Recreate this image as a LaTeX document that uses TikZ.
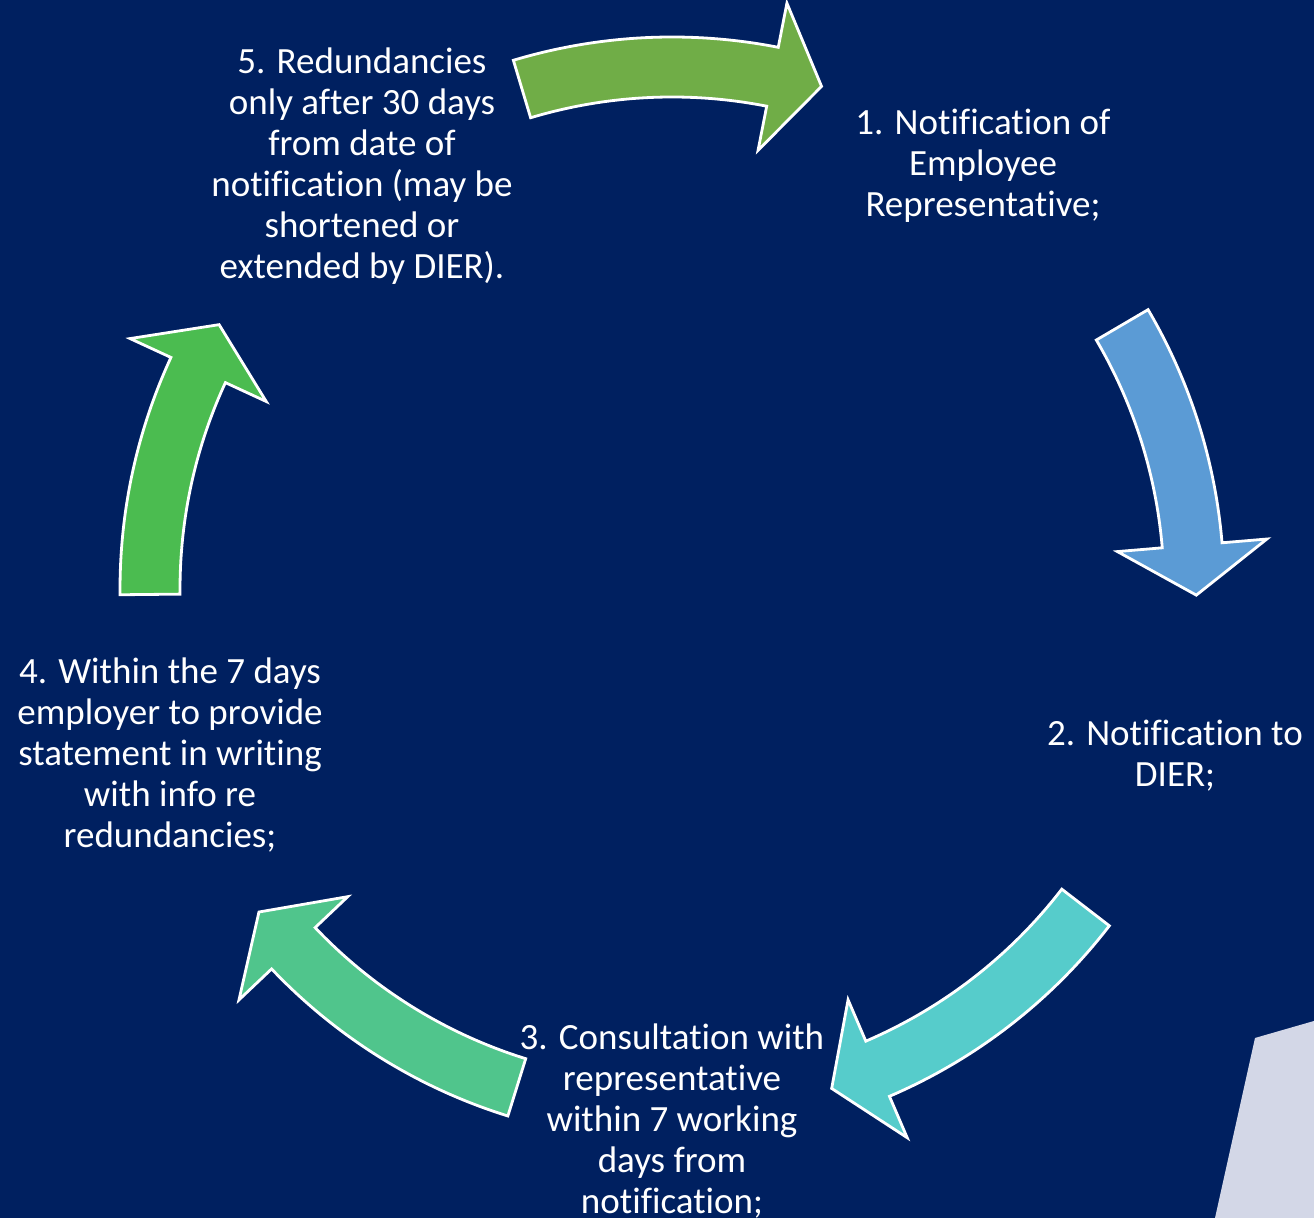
\documentclass[tikz,border=0pt]{standalone}
\usepackage{fontspec}
\setmainfont{Carlito}[Ligatures={NoCommon}]
\usepackage{tikz}
\usetikzlibrary{calc}

\definecolor{bgnavy}{HTML}{002060}
\definecolor{arrowA}{HTML}{70AD47}
\definecolor{arrowB}{HTML}{5B9BD5}
\definecolor{arrowC}{HTML}{56CCCB}
\definecolor{arrowD}{HTML}{50C58C}
\definecolor{arrowE}{HTML}{4BBC50}
\definecolor{lavender}{HTML}{D3D7E7}

\newcommand{\cyclearrow}[3]{%
  \draw[blockarrow, fill=#1]
    ($(C)+(#2:552)$) arc[start angle=#2, end angle=#3, radius=552]
    -- ($(C)+(#3:597)$)
    -- ($(C)+(#3:522)+({#3-90}:50)$)
    -- ($(C)+(#3:447)$)
    -- ($(C)+(#3:492)$) arc[start angle=#3, end angle=#2, radius=492]
    -- cycle;}

\begin{document}
\begin{tikzpicture}[x=0.5pt, y=0.5pt]
\tikzset{
	stage/.style = {align=center, text=white, inner sep=0,
		font=\fontsize{18.5}{20.5}\selectfont},
	blockarrow/.style = {draw=white, line width=1.4pt, line join=miter}
}

\fill[bgnavy] (0,0) rectangle (1314,1218);
\useasboundingbox (0,0) rectangle (1314,1218);
\fill[lavender] (1215,0) -- (1255,180) -- (1314,197) -- (1314,0) -- cycle;

\coordinate (C) at (672,629);

\cyclearrow{arrowA}{106.7}{78.9}
\cyclearrow{arrowB}{30.4}{4.8}
\cyclearrow{arrowC}{-37.6}{-66.8}
\cyclearrow{arrowD}{-107.3}{-136.5}
\cyclearrow{arrowE}{180.6}{155.2}

\node (s1) [stage] at (983,1052) {1. Notification of\\Employee\\Representative;};
\node (s2) [stage] at (1175,462) {2. Notification to\\DIER;};
\node (s3) [stage] at (672,97) {3. Consultation with\\representative\\within 7 working\\days from\\notification;};
\node (s4) [stage] at (170,463) {4. Within the 7 days\\employer to provide\\statement in writing\\with info re\\redundancies;};
\node (s5) [stage] at (362,1052) {5. Redundancies\\only after 30 days\\from date of\\notification (may be\\shortened or\\extended by DIER).};

\end{tikzpicture}
\end{document}
